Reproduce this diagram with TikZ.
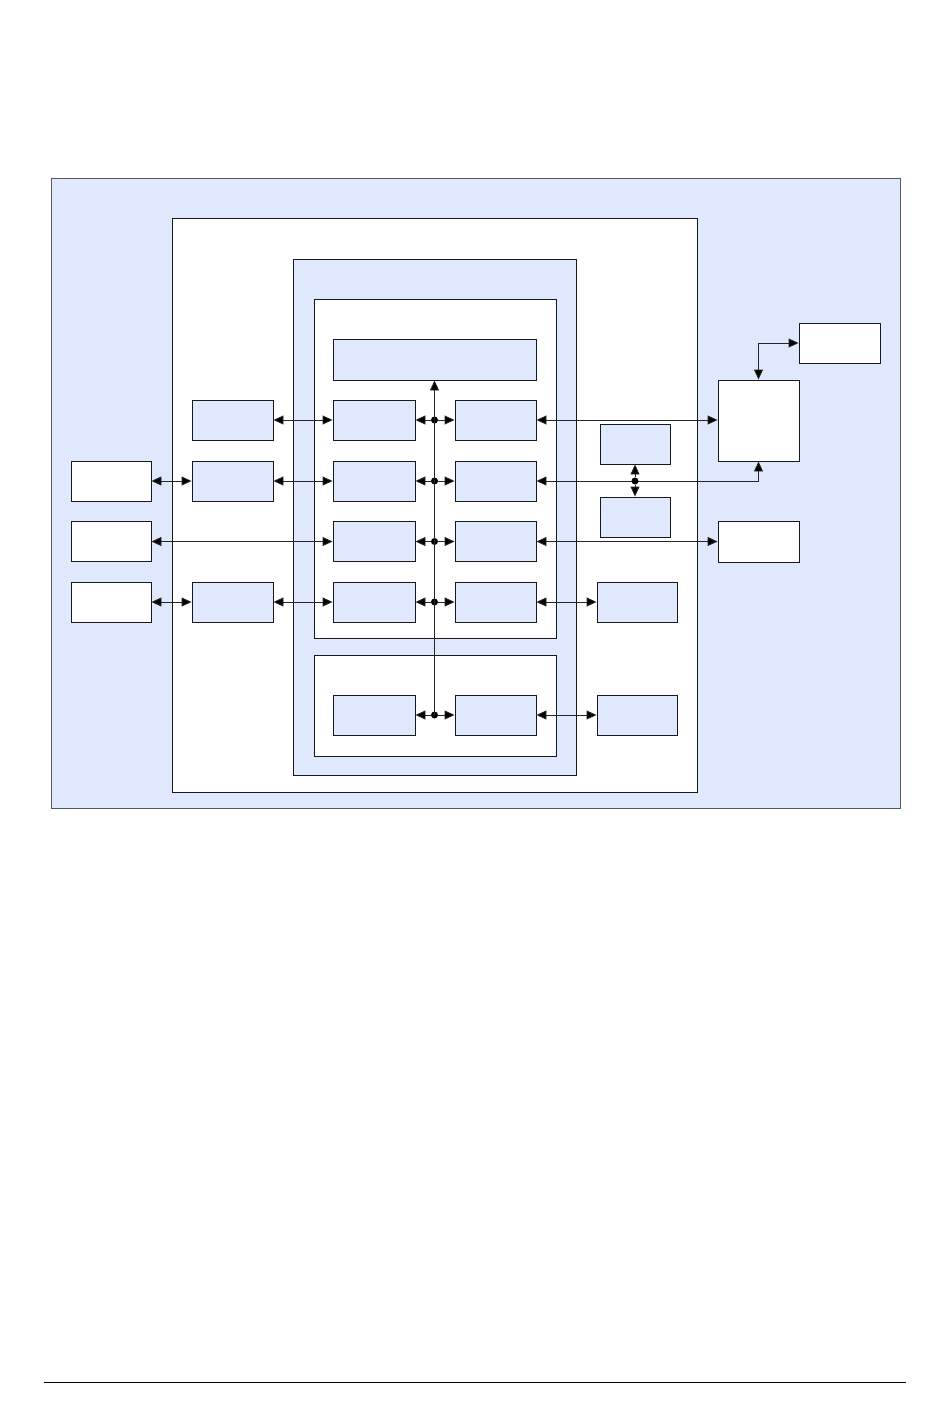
\documentclass[tikz,border=0pt]{standalone}
\usetikzlibrary{arrows.meta}
\definecolor{lb}{RGB}{223,232,252}
\begin{document}
\begin{tikzpicture}[x=1pt,y=-1pt,
  bx/.style={draw=black!90,line width=0.9pt,inner sep=0pt,fill=lb},
  wb/.style={draw=black!90,line width=0.9pt,inner sep=0pt,fill=white},
  ln/.style={draw=black!85,line width=0.9pt},
  ar/.style={ln,{Triangle[length=10pt,width=9pt,fill=black]}-{Triangle[length=10pt,width=9pt,fill=black]}},
  ar1/.style={ln,-{Triangle[length=10pt,width=9pt,fill=black]}},
  dot/.style={circle,fill=black,inner sep=0pt,minimum size=7pt}]
\useasboundingbox (0,0) rectangle (950,1419);
\fill[white] (0,0) rectangle (950,1419);
% containers
\node[bx,draw=black!65,minimum width=849pt,minimum height=630pt] (outer) at (475.5,493) {};
\node[wb,minimum width=525pt,minimum height=574pt] (wbox) at (434.5,505) {};
\node[bx,minimum width=283pt,minimum height=516pt] (bbox) at (434.5,517) {};
\node[wb,minimum width=242pt,minimum height=339pt] (upper) at (435,468.5) {};
\node[wb,minimum width=242pt,minimum height=101pt] (lower) at (435,705.5) {};
% inner boxes
\node[bx,minimum width=203pt,minimum height=41pt] (top) at (434.5,359.5) {};
\foreach \i/\y in {1/420,2/481,3/541.5,4/602,5/715}{
  \node[bx,minimum width=82pt,minimum height=40pt] (cl\i) at (374,\y) {};
  \node[bx,minimum width=81pt,minimum height=40pt] (cr\i) at (495.5,\y) {};
  \node[dot] (j\i) at (434.5,\y) {};
}
\foreach \i/\y in {1/420,2/481,4/602}{
  \node[bx,minimum width=81pt,minimum height=40pt] (lc\i) at (232.5,\y) {};
}
\foreach \i/\y in {2/481,3/541.5,4/602}{
  \node[wb,minimum width=80pt,minimum height=40pt] (fl\i) at (111,\y) {};
}
\node[bx,minimum width=80pt,minimum height=40pt] (rb4) at (637,602) {};
\node[bx,minimum width=80pt,minimum height=40pt] (rb5) at (637,715) {};
\node[bx,minimum width=70pt,minimum height=40pt] (s1) at (635,444) {};
\node[bx,minimum width=70pt,minimum height=40pt] (s2) at (635,517) {};
\node[wb,minimum width=81pt,minimum height=81pt] (big) at (758.5,420.5) {};
\node[wb,minimum width=81pt,minimum height=40pt] (tr) at (839.5,343) {};
\node[wb,minimum width=81pt,minimum height=41pt] (br) at (758.5,541.5) {};
% bus
\draw[ar1] (j5.center) -- (top.south);
\foreach \i in {1,...,5}{
  \draw[ar1] (j\i) -- (cl\i.east);
  \draw[ar1] (j\i) -- (cr\i.west);
}
% left side
\draw[ar] (lc1.east) -- (cl1.west);
\draw[ar] (fl2.east) -- (lc2.west);
\draw[ar] (lc2.east) -- (cl2.west);
\draw[ar] (fl3.east) -- (cl3.west);
\draw[ar] (fl4.east) -- (lc4.west);
\draw[ar] (lc4.east) -- (cl4.west);
% right side
\draw[ar] (cr1.east) -- (big.west |- cr1.east);
\draw[ar] (cr2.east) -| (big.south);
\node[dot] (j6) at (s1.south |- cr2.east) {};
\draw[ar1] (j6) -- (s1.south);
\draw[ar1] (j6) -- (s2.north);
\draw[ar] (cr3.east) -- (br.west);
\draw[ar] (cr4.east) -- (rb4.west);
\draw[ar] (cr5.east) -- (rb5.west);
\draw[ar] (big.north) |- (tr.west);
% footer rule
\coordinate (fa) at (44,1382.5);
\coordinate (fb) at (906,1382.5);
\draw[line width=1.2pt] (fa) -- (fb);
\end{tikzpicture}
\end{document}
